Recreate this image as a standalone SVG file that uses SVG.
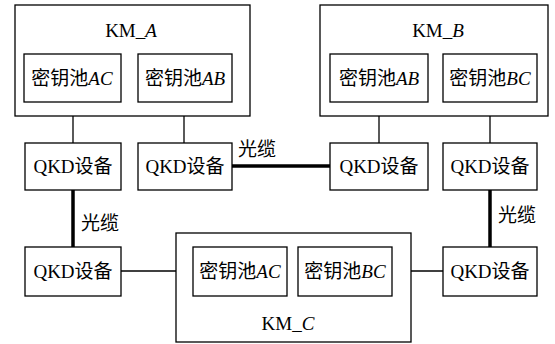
<svg xmlns="http://www.w3.org/2000/svg" width="555" height="344" viewBox="0 0 555 344">
<style>
rect{fill:#fff;stroke:#000;stroke-width:1.3}
text{font-family:"Liberation Serif","Noto Sans CJK SC",serif;font-size:19px;fill:#000;text-anchor:middle}
.i{font-style:italic}
.thin{stroke:#000;stroke-width:1.3;fill:none}
.thick{stroke:#000;stroke-width:3.5;fill:none}
</style>
<rect width="555" height="344" style="stroke:none"/>
<g id="connectors">
<line class="thin" x1="73" y1="102" x2="73" y2="143"/>
<line class="thin" x1="184" y1="102" x2="184" y2="143"/>
<line class="thin" x1="379" y1="102" x2="379" y2="143"/>
<line class="thin" x1="490" y1="102" x2="490" y2="143"/>
<line class="thick" x1="232" y1="166" x2="330" y2="166"/>
<line class="thick" x1="73" y1="190" x2="73" y2="247"/>
<line class="thick" x1="490" y1="190" x2="490" y2="247"/>
<line class="thin" x1="121" y1="271" x2="193" y2="271"/>
<line class="thin" x1="392" y1="271" x2="443" y2="271"/>
<text x="257" y="156">光缆</text>
<text x="100" y="230">光缆</text>
<text x="517" y="222">光缆</text>
</g>
<g id="KM_A">
<rect x="15" y="5" width="235" height="111"/>
<text x="131" y="37">KM_<tspan class="i">A</tspan></text>
</g>
<g id="poolAC_A"><rect x="24" y="54" width="97" height="48"/><text x="72" y="85">密钥池<tspan class="i">AC</tspan></text></g>
<g id="poolAB_A"><rect x="138" y="54" width="94" height="48"/><text x="185" y="85">密钥池<tspan class="i">AB</tspan></text></g>
<g id="KM_B">
<rect x="320" y="5" width="228" height="111"/>
<text x="438" y="37">KM_<tspan class="i">B</tspan></text>
</g>
<g id="poolAB_B"><rect x="330" y="54" width="98" height="48"/><text x="379" y="85">密钥池<tspan class="i">AB</tspan></text></g>
<g id="poolBC_B"><rect x="443" y="54" width="94" height="48"/><text x="490" y="85">密钥池<tspan class="i">BC</tspan></text></g>
<g id="qkd1"><rect x="25" y="143" width="96" height="47"/><text x="73" y="173">QKD设备</text></g>
<g id="qkd2"><rect x="138" y="143" width="94" height="47"/><text x="185" y="173">QKD设备</text></g>
<g id="qkd3"><rect x="330" y="143" width="98" height="47"/><text x="379" y="173">QKD设备</text></g>
<g id="qkd4"><rect x="443" y="143" width="94" height="47"/><text x="490" y="173">QKD设备</text></g>
<g id="qkd5"><rect x="25" y="247" width="96" height="49"/><text x="73" y="278">QKD设备</text></g>
<g id="qkd6"><rect x="443" y="247" width="94" height="49"/><text x="490" y="278">QKD设备</text></g>
<g id="KM_C">
<rect x="176" y="233" width="235" height="109"/>
<text x="288" y="330">KM_<tspan class="i">C</tspan></text>
</g>
<g id="poolAC_C"><rect x="193" y="247" width="94" height="49"/><text x="240" y="278">密钥池<tspan class="i">AC</tspan></text></g>
<g id="poolBC_C"><rect x="298" y="247" width="94" height="49"/><text x="345" y="278">密钥池<tspan class="i">BC</tspan></text></g>
</svg>
